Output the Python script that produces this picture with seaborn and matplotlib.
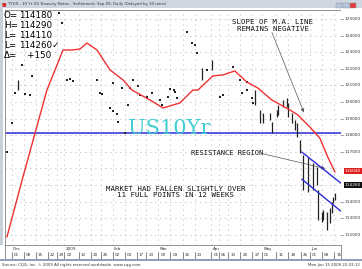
import matplotlib
matplotlib.use('Agg')
import matplotlib.pyplot as plt
from matplotlib.patches import Rectangle
import seaborn as sns
import pandas as pd

sns.set_theme(style='white')
plt.rcParams['font.family'] = ['DejaVu Sans']

# ---------------- data (trading-day index from Dec 1 2008, price in points) ----
dot_day = [19.7, 21.0, 4.4, 8.5, 24.3, 25.5, 23.0, 35.5, 42.1, 50.4, 52.5, 49.2,
           45.9, 65.8, 67.4, 1.5, 5.6, 7.7, 0.2, -1.9, 36.7, 37.6, 48.3, 40.9,
           42.1, 43.8, 44.2, 47.1, 53.3, 56.2, 58.3, 61.6, 62.4, 64.9, 68.7,
           67.8, 72.8, 74.9, 76.1, 77.0, 81.1, 91.9, 94.8, 97.7, 86.5, 87.8,
           95.6, 97.7, 99.8, 100.2]
dot_price = [125.36, 124.76, 122.23, 121.57, 121.39, 121.27, 121.33, 121.33,
             121.14, 121.33, 120.96, 120.84, 120.84, 120.78, 120.72, 120.54,
             120.48, 120.42, 118.73, 116.99, 120.54, 120.48, 119.82, 119.64,
             119.46, 119.28, 118.80, 118.13, 120.42, 120.30, 120.54, 120.12,
             119.82, 120.30, 120.24, 120.60, 124.22, 123.55, 123.43, 122.95,
             121.93, 122.11, 121.33, 121.20, 120.30, 120.42, 120.54, 120.72,
             120.24, 119.94]

bar_day = [2.7, 79.0, 83.2, 101.0, 103.1, 104.4, 107.3, 108.1, 110.2, 110.6,
           112.7, 114.3, 114.7, 116.4, 117.6, 118.5, 119.7, 120.9, 123.0, 125.1,
           126.7, 127.1, 128.8, 129.2, 130.9, 132.2, 133.0, 133.4, 134.3]
bar_high = [121.33, 122.05, 122.53, 120.72, 119.52, 119.34, 119.34, 118.80,
            119.52, 119.82, 120.12, 120.24, 119.94, 119.34, 118.92, 118.73,
            117.71, 116.81, 116.69, 116.33, 116.08, 114.70, 113.37, 113.49,
            113.37, 113.61, 113.98, 114.28, 114.52]
bar_low = [120.72, 121.33, 121.93, 119.82, 118.73, 118.73, 118.92, 118.13,
           119.10, 119.22, 119.70, 119.70, 119.10, 118.73, 118.31, 117.89,
           116.93, 114.70, 114.60, 114.70, 115.00, 112.89, 112.77, 112.89,
           112.29, 112.71, 113.31, 113.92, 114.10]

ma_day = [-1.9, 4.4, 14.7, 21.4, 25.1, 28.4, 31.3, 35.5, 40.9, 46.3, 50.0, 57.5,
          62.9, 69.9, 75.3, 77.4, 83.6, 87.8, 92.7, 97.7, 102.3, 108.1, 115.6,
          118.9, 123.9, 128.0, 131.3, 134.3]
ma_value = [111.87, 115.30, 120.72, 123.13, 123.13, 123.19, 123.55, 123.13,
            121.93, 121.33, 120.72, 120.12, 119.64, 119.94, 120.72, 120.72,
            121.57, 121.63, 121.87, 121.20, 120.84, 120.12, 119.52, 119.22,
            118.49, 117.83, 116.69, 115.78]

support_level = 118.13
chan_day = [120.5, 136.7]
chan_upper = [116.99, 115.12]
chan_lower = [115.36, 113.43]

price_ticks = [125, 124, 123, 122, 121, 120, 119, 118, 117, 114, 113, 112]
price_tick_labels = ['125000', '124000', '123000', '122000', '121000', '120000',
                     '119000', '118000', '117000', '114000', '113000', '112000']
last_ma_label, last_ma_pos = '116040', 115.85
last_px_label, last_px_pos = '114260', 115.00

month_days = [0, 22, 42, 61, 83, 104, 124]
month_labels = ['Dec', '2009', 'Feb', 'Mar', 'Apr', 'May', 'Jun']
tick_days = [0, 5, 10, 15, 19, 22, 28, 33, 37, 42, 47, 52, 56, 61, 66, 71, 76,
             83, 86, 90, 95, 100, 104, 110, 115, 120, 124, 129, 134]
tick_labels = ['01', '08', '15', '22', '29', '02', '12', '20', '26', '02', '09',
               '17', '23', '02', '09', '16', '23', '01', '06', '13', '20', '27',
               '01', '11', '18', '26', '01', '08', '15']

ohlc_lines = ['O=', 'H=', 'L=', 'L=', '\u0394=']
ohlc_values = ['114180', '114290', '114110', '114260\u2713', '   +150']

# ---------------- figure ----------------
W, H = 362, 269
fig = plt.figure(figsize=(W / 100, H / 100), dpi=100)
fig.patch.set_facecolor('white')


def fx(px):
    return px / W


def fy(py):
    return 1 - py / H


X0, X1, Y0, Y1 = 5, 341, 10, 245
XMIN, XMAX = -2.7, 136.8
YMIN, YMAX = 111.39, 125.54

ax = fig.add_axes([fx(X0), fy(Y1), fx(X1) - fx(X0), fy(Y0) - fy(Y1)])
ax.set_facecolor('white')
ax.set_xlim(XMIN, XMAX)
ax.set_ylim(YMIN, YMAX)

# grid
for p in range(112, 126):
    ax.axhline(p, color='#9a9a9a', lw=0.6, ls=(0, (1, 5)), zorder=0)
for d in tick_days:
    ax.axvline(d, color='#9a9a9a', lw=0.6, ls=(0, (1, 5)), zorder=0)

# support line
ax.axhline(support_level, color='#2b2bd6', lw=1.1, zorder=2)

# price bars
ax.vlines(bar_day, bar_low, bar_high, color='#222222', lw=0.9, zorder=3)
dots = pd.DataFrame({'day': dot_day, 'price': dot_price})
sns.scatterplot(data=dots, x='day', y='price', ax=ax, color='#222222', s=2.5,
                marker='s', linewidth=0, zorder=3, legend=False)

# moving average
ma = pd.DataFrame({'day': ma_day, 'ma': ma_value})
sns.lineplot(data=ma, x='day', y='ma', ax=ax, color='#f03030', lw=1.0,
             sort=False, estimator=None, zorder=4)

# channel
sns.lineplot(x=chan_day, y=chan_upper, ax=ax, color='#2b2bd6', lw=1.0, zorder=4)
sns.lineplot(x=chan_day, y=chan_lower, ax=ax, color='#2b2bd6', lw=1.0, zorder=4)

ax.set_xlabel('')
ax.set_ylabel('')
ax.set_xticks([])
ax.set_yticks([])
for s in ax.spines.values():
    s.set_color('#808080')
    s.set_linewidth(0.6)

# annotations
mono = 'DejaVu Sans Mono'
ax.text(108.5, 124.6, 'SLOPE OF M.A. LINE\nREMAINS NEGATIVE', ha='center', va='center',
        family=mono, fontsize=5.3, color='#111111', linespacing=1.05)
ax.annotate('', xy=(121.8, 119.22), xytext=(107.7, 124.34),
            arrowprops=dict(arrowstyle='-|>', color='#555555', lw=0.5,
                            mutation_scale=5))
ax.text(74.6, 116.95, 'RESISTANCE REGION', ha='left', va='center',
        family=mono, fontsize=5.1, color='#111111')
ax.annotate('', xy=(131.3, 115.96), xytext=(103.1, 116.93),
            arrowprops=dict(arrowstyle='-|>', color='#555555', lw=0.5,
                            mutation_scale=5))
ax.text(68.0, 114.6, 'MARKET HAD FALLEN SLIGHTLY OVER\n11 FULL POINTS IN 12 WEEKS',
        ha='center', va='center', family=mono, fontsize=5.3, color='#111111',
        linespacing=1.05)
ax.text(48.5, 118.05, 'US10Yr', ha='left', va='baseline', family='DejaVu Serif',
        fontsize=15, color='#40cdd3', zorder=5)

# OHLC readout
for k, (a, b) in enumerate(zip(ohlc_lines, ohlc_values)):
    fig.text(fx(4), fy(15 + 10 * k), a, ha='left', va='center', fontsize=6.3,
             color='black')
    fig.text(fx(19), fy(15 + 10 * k), b, ha='left', va='center', fontsize=6.3,
             color='black')

# right price axis
axr = fig.add_axes([fx(X1), fy(Y1), fx(361) - fx(X1), fy(Y0) - fy(Y1)])
axr.set_xlim(0, 1)
axr.set_ylim(YMIN, YMAX)
axr.set_xticks([])
axr.set_yticks([])
for s in axr.spines.values():
    s.set_visible(False)
axr.set_facecolor('white')
for p, lab in zip(price_ticks, price_tick_labels):
    axr.text(0.18, p, lab, ha='left', va='center', fontsize=3.1, color='#333333')
    axr.plot([0, 0.08], [p, p], color='#666666', lw=0.5)
axr.text(0.18, last_ma_pos, last_ma_label, ha='left', va='center', fontsize=3.1,
         color='white', bbox=dict(boxstyle='square,pad=0.25', fc='#e02020', ec='none'))
axr.text(0.18, last_px_pos, last_px_label, ha='left', va='center', fontsize=3.1,
         color='white', bbox=dict(boxstyle='square,pad=0.25', fc='#111111', ec='none'))

# date strip
axd = fig.add_axes([fx(X0), fy(259), fx(X1) - fx(X0), fy(Y1) - fy(259)])
axd.set_xlim(XMIN, XMAX)
axd.set_ylim(0, 1)
axd.set_xticks([])
axd.set_yticks([])
for s in axd.spines.values():
    s.set_color('#808080')
    s.set_linewidth(0.6)
for d, lab in zip(month_days, month_labels):
    axd.text(d + 0.6, 0.72, lab, ha='left', va='center', fontsize=3.0, color='#333333')
for d, lab in zip(tick_days, tick_labels):
    axd.plot([d, d], [0.0, 0.5], color='#555555', lw=0.5)
    axd.text(d + 0.8, 0.27, lab, ha='left', va='center', fontsize=3.0, color='#333333')

# window chrome
fig.patches.append(Rectangle((0, fy(8)), 1, 1 - fy(8), transform=fig.transFigure,
                             fc='#d0d6e0', ec='none', zorder=-1))
fig.patches.append(Rectangle((0, fy(Y1)), fx(3), fy(8) - fy(Y1), transform=fig.transFigure,
                             fc='#c8d0dc', ec='none', zorder=-1))
fig.text(fx(2), fy(4), '\u25a0', fontsize=3.5, color='#d03030', va='center')
fig.text(fx(8), fy(4), 'TYU9 - 10 Yr US Treasury Notes - Settlement, Sep 09, Daily (Delayed by 10 mins)',
         fontsize=2.8, color='#333333', va='center')
for xb, col in [(336, '#b8c4d8'), (343, '#b8c4d8'), (350, '#e04040')]:
    fig.patches.append(Rectangle((fx(xb), fy(8)), fx(6), fy(3) - fy(8),
                                 transform=fig.transFigure, fc=col, ec='#8090a8', lw=0.3))
fig.text(fx(2), fy(265), 'Source: CQG, Inc. \u00a9 2009 All rights reserved worldwide. www.cqg.com',
         fontsize=2.8, color='#333333', va='center')
fig.text(fx(360), fy(265), 'Mon Jun 15 2009 22:32:12', fontsize=2.8, color='#333333',
         va='center', ha='right')
fig.patches.append(Rectangle((0, fy(261)), 1, fy(259) - fy(261), transform=fig.transFigure,
                             fc='#8fa0bc', ec='none'))

fig.savefig('out.png', dpi=100)
